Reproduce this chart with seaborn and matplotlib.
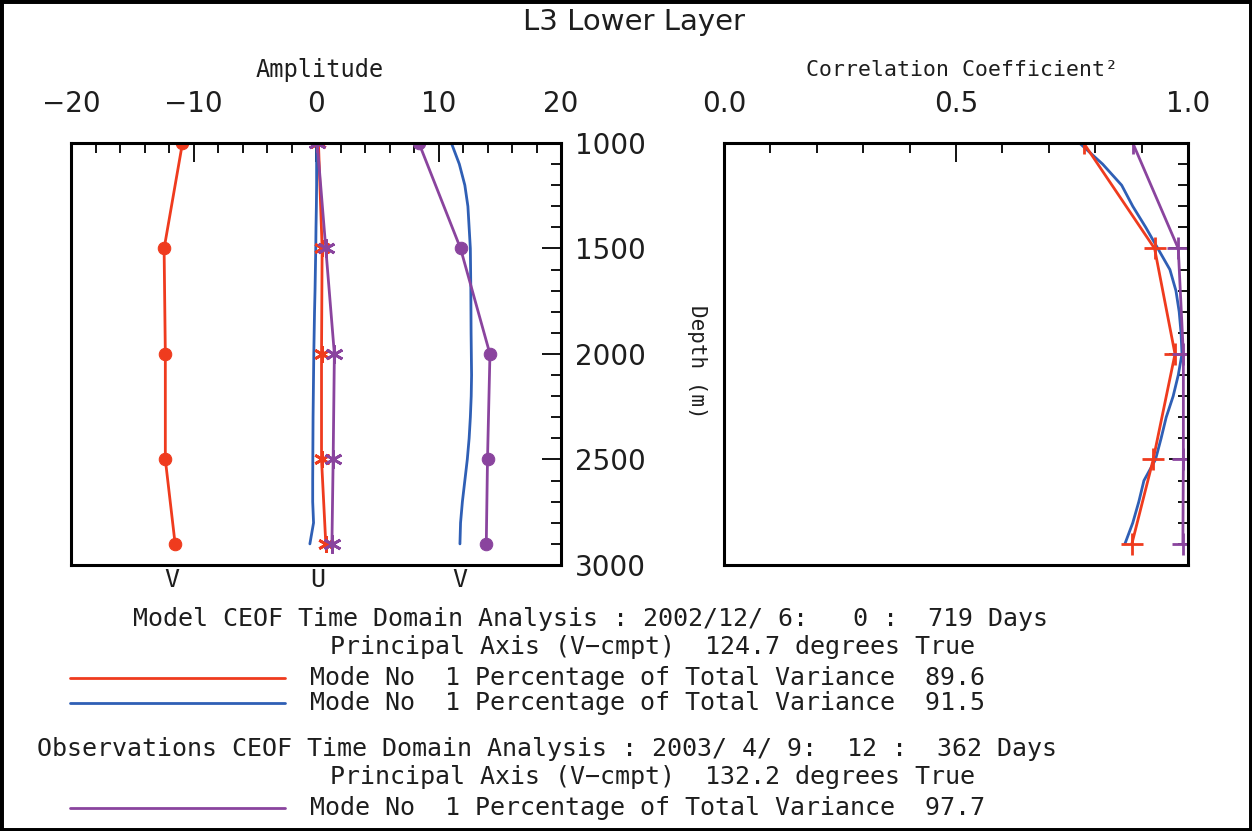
import matplotlib
matplotlib.use("Agg")
import matplotlib.pyplot as plt
from matplotlib.lines import Line2D
from matplotlib.patches import Rectangle
from matplotlib.ticker import MultipleLocator, FixedLocator
import seaborn as sns

# depth levels (m)
depth_pts = [1000, 1500, 2000, 2500, 2900]
depth_fine = [1000, 1100, 1200, 1300, 1400, 1500, 1600, 1700, 1800, 1900,
              2000, 2100, 2200, 2300, 2400, 2500, 2600, 2700, 2800, 2900]

# amplitude profiles
model1_v = [-10.9, -12.4, -12.3, -12.3, -11.5]
model1_u = [0.2, 0.5, 0.45, 0.45, 0.8]
obs_v = [8.4, 11.8, 14.2, 14.0, 13.9]
obs_u = [0.1, 0.8, 1.5, 1.4, 1.3]
model2_v = [11.05, 11.7, 12.15, 12.4, 12.5, 12.6, 12.62, 12.64, 12.65, 12.66,
            12.68, 12.7, 12.67, 12.6, 12.5, 12.35, 12.15, 11.95, 11.8, 11.75]
model2_u = [0.05, 0.05, 0.05, 0.03, 0.0, -0.02, -0.05, -0.08, -0.12, -0.15,
            -0.18, -0.2, -0.22, -0.24, -0.25, -0.26, -0.27, -0.27, -0.2, -0.5]

# correlation coefficient squared
corr_model1 = [0.775, 0.928, 0.972, 0.925, 0.879]
corr_obs = [0.881, 0.979, 0.99, 0.99, 0.989]
corr_model2 = [0.766, 0.816, 0.857, 0.881, 0.909, 0.935, 0.961, 0.974, 0.981, 0.985,
               0.987, 0.979, 0.968, 0.953, 0.942, 0.93, 0.905, 0.894, 0.881, 0.864]

amp_ticks = [-20, -10, 0, 10, 20]
corr_ticks = [0.0, 0.5, 1.0]
corr_labels = ["0.0", "0.5", "1.0"]
depth_ticks = [1000, 1500, 2000, 2500, 3000]

red = "#ef3b1e"
blue = "#2f5fb5"
purple = "#8a449e"
ink = "#1e1e1e"
mono = "DejaVu Sans Mono"

sns.set_theme(style="white")
plt.rcParams['font.family'] = ['DejaVu Sans']
plt.rcParams['axes.linewidth'] = 2.2
plt.rcParams['axes.edgecolor'] = 'black'
plt.rcParams['text.color'] = ink
plt.rcParams['xtick.color'] = 'black'
plt.rcParams['ytick.color'] = 'black'
plt.rcParams['xtick.labelcolor'] = ink
plt.rcParams['ytick.labelcolor'] = ink

fig = plt.figure(figsize=(12.52, 8.31), dpi=100)
ax1 = fig.add_axes([71 / 1252, 1 - 565 / 831, 490 / 1252, 422 / 831])
ax2 = fig.add_axes([724 / 1252, 1 - 565 / 831, 464 / 1252, 422 / 831])

# left panel: amplitude
sns.lineplot(x=model2_u, y=depth_fine, sort=False, estimator=None, color=blue, lw=2, ax=ax1)
sns.lineplot(x=model2_v, y=depth_fine, sort=False, estimator=None, color=blue, lw=2, ax=ax1)
sns.lineplot(x=model1_v, y=depth_pts, sort=False, estimator=None, color=red, lw=2,
             marker='o', markersize=9, markeredgecolor=red, ax=ax1)
sns.lineplot(x=model1_u, y=depth_pts, sort=False, estimator=None, color=red, lw=2,
             marker=(6, 2, 0), markersize=12, markeredgecolor=red, markeredgewidth=2, ax=ax1)
sns.lineplot(x=obs_v, y=depth_pts, sort=False, estimator=None, color=purple, lw=2,
             marker='o', markersize=9, markeredgecolor=purple, ax=ax1)
sns.lineplot(x=obs_u, y=depth_pts, sort=False, estimator=None, color=purple, lw=2,
             marker=(6, 2, 0), markersize=13, markeredgecolor=purple, markeredgewidth=2, ax=ax1)

ax1.set_xlim(-20, 20)
ax1.set_ylim(3000, 1000)
ax1.xaxis.set_major_locator(FixedLocator(amp_ticks))
ax1.xaxis.set_minor_locator(MultipleLocator(2))
ax1.yaxis.set_major_locator(FixedLocator(depth_ticks))
ax1.yaxis.set_minor_locator(MultipleLocator(100))
ax1.xaxis.tick_top()
ax1.yaxis.tick_right()
ax1.tick_params(axis='x', which='both', direction='in', top=True, bottom=False,
                labeltop=True, labelbottom=False, pad=18, labelsize=20)
ax1.tick_params(axis='y', which='both', direction='in', right=True, left=False,
                labelright=True, labelleft=False, pad=10, labelsize=20)
ax1.tick_params(which='major', length=14, width=1.3)
ax1.tick_params(which='minor', length=7, width=1.3)
ax1.set_xlabel("")
ax1.set_ylabel("")

# right panel: correlation
sns.lineplot(x=corr_model2, y=depth_fine, sort=False, estimator=None, color=blue, lw=2, ax=ax2)
sns.lineplot(x=corr_model1, y=depth_pts, sort=False, estimator=None, color=red, lw=2,
             marker='+', markersize=16, markeredgewidth=2, markeredgecolor=red, ax=ax2)
sns.lineplot(x=corr_obs, y=depth_pts, sort=False, estimator=None, color=purple, lw=2,
             marker='+', markersize=16, markeredgewidth=2, markeredgecolor=purple, ax=ax2)

ax2.set_xlim(0, 1)
ax2.set_ylim(3000, 1000)
ax2.xaxis.set_major_locator(FixedLocator(corr_ticks))
ax2.set_xticklabels(corr_labels)
ax2.xaxis.set_minor_locator(MultipleLocator(0.1))
ax2.yaxis.set_major_locator(FixedLocator(depth_ticks))
ax2.yaxis.set_minor_locator(MultipleLocator(100))
ax2.xaxis.tick_top()
ax2.yaxis.tick_right()
ax2.tick_params(axis='x', which='both', direction='in', top=True, bottom=False,
                labeltop=True, labelbottom=False, pad=18, labelsize=20)
ax2.tick_params(axis='y', which='both', direction='in', right=True, left=False,
                labelright=False, labelleft=False)
ax2.tick_params(which='major', length=14, width=1.3)
ax2.tick_params(which='minor', length=7, width=1.3)
ax2.set_xlabel("")
ax2.set_ylabel("")

# titles and labels
fig.text(634 / 1252, 1 - 22 / 831, "L3 Lower Layer", ha='center', va='center', fontsize=21)
fig.text(320 / 1252, 1 - 70 / 831, "Amplitude", ha='center', va='center', fontsize=17, family=mono)
fig.text(962 / 1252, 1 - 70 / 831, "Correlation Coefficient²", ha='center', va='center',
         fontsize=15.5, family=mono)
fig.text(697 / 1252, 1 - 362 / 831, "Depth (m)", ha='center', va='center', fontsize=15,
         rotation=-90, family=mono)
for xpos, lab in [(172, "V"), (318, "U"), (460, "V")]:
    fig.text(xpos / 1252, 1 - 580 / 831, lab, ha='center', va='center', fontsize=18, family=mono)

# annotation block
notes = [
    (133, 619, "Model CEOF Time Domain Analysis : 2002/12/ 6:   0 :  719 Days"),
    (330, 647, "Principal Axis (V\u2212cmpt)  124.7 degrees True"),
    (310, 678, "Mode No  1 Percentage of Total Variance  89.6"),
    (310, 703, "Mode No  1 Percentage of Total Variance  91.5"),
    (37, 749, "Observations CEOF Time Domain Analysis : 2003/ 4/ 9:  12 :  362 Days"),
    (330, 777, "Principal Axis (V\u2212cmpt)  132.2 degrees True"),
    (310, 808, "Mode No  1 Percentage of Total Variance  97.7"),
]
for xpos, ypos, txt in notes:
    fig.text(xpos / 1252, 1 - ypos / 831, txt, ha='left', va='center', fontsize=18, family=mono)

# legend line samples
for ypos, col in [(678, red), (703, blue), (808, purple)]:
    fig.add_artist(Line2D([70 / 1252, 285 / 1252], [1 - ypos / 831, 1 - ypos / 831],
                          transform=fig.transFigure, color=col, lw=2))

# outer frame
fig.add_artist(Rectangle((0, 0), 1, 1, transform=fig.transFigure, fill=False,
                         edgecolor='black', lw=5))

fig.savefig("out.png", dpi=100)
